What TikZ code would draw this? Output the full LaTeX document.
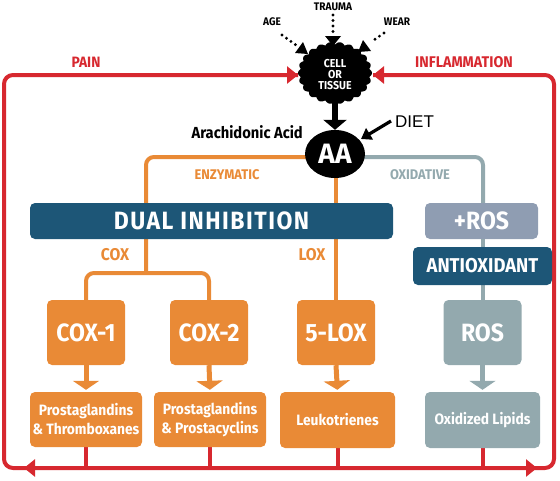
\documentclass[tikz,border=0pt]{standalone}
\usepackage{fontspec}
\setmainfont{Fira Sans}
\newfontfamily\cf{Fira Sans}[FakeStretch=0.92]
\newfontfamily\cfw{Fira Sans}[FakeStretch=0.92,LetterSpace=6]
\newfontfamily\pf{Liberation Sans}
\usetikzlibrary{arrows.meta,shapes.geometric,backgrounds}
\definecolor{ored}{HTML}{D7282F}
\definecolor{oorange}{HTML}{E98A36}
\definecolor{oblue}{HTML}{1D5677}
\definecolor{ogray}{HTML}{8F9DB2}
\definecolor{oteal}{HTML}{93A9AE}
\newcommand{\fsz}[2]{\fontsize{#1}{#2}\selectfont}
\begin{document}
\begin{tikzpicture}[x=1pt,y=-1pt,
  box/.style={rectangle, rounded corners=5pt, inner sep=0pt, text=white, align=center},
  bigbox/.style={box, minimum width=78, minimum height=65, font=\cf\bfseries\fsz{25}{28}},
  prodbox/.style={box, minimum height=55, font=\cf\bfseries\fsz{15}{19}},
  redl/.style={draw=ored, line width=4pt},
  oline/.style={draw=oorange, line width=4pt},
  gline/.style={draw=oteal, line width=4pt},
  dotl/.style={draw=black, line width=3.2pt, line cap=round, dash pattern=on 0pt off 5.5pt},
  lbl/.style={font=\cf\bfseries\fsz{14}{14}, inner sep=0pt},
  boxtip/.style={-{Triangle[length=9pt,width=26pt]}, shorten >=2pt}
]
\useasboundingbox (0,0) rectangle (560,480);
% coordinates
\coordinate (ly) at (0,157);
\coordinate (tl) at (4,75);
\coordinate (tr) at (554,75);
\coordinate (bl) at (4,468);
\coordinate (br) at (554,468);
\coordinate (cellW) at (298,75);
\coordinate (cellE) at (373,75);
\coordinate (ec) at (146,157);
\coordinate (ej) at (146,273);
\coordinate (gc) at (483,157);

% cell
\fill[black] plot[domain=0:360,samples=541,smooth] ({335+(34.5+2.5*abs(cos(11*\x)))*cos(\x)},{73+(28.5+2.5*abs(cos(11*\x)))*sin(\x)}) -- cycle;
\node[text=white, align=center, font=\cf\bfseries\fsz{11.5}{11}, inner sep=0pt] (cellt) at (335,75) {CELL\\OR\\TISSUE};

% AA
\node[ellipse, fill=black, minimum width=60, minimum height=48, inner sep=0pt, text=white, font=\bfseries\fsz{28}{28}] (aa) at (335,154) {AA};

% boxes
\node[box, fill=oblue, minimum width=363, minimum height=36, font=\cfw\bfseries\fsz{25}{25}] (dual) at (211.5,221) {DUAL INHIBITION};
\node[box, fill=ogray, minimum width=113, minimum height=36, font=\cf\bfseries\fsz{25}{25}] (plusros) at (481.5,221) {+ROS};
\node[box, fill=oblue, minimum width=139, minimum height=38, font=\cf\bfseries\fsz{20}{20}] (antiox) at (482.5,266) {ANTIOXIDANT};
\node[bigbox, fill=oorange] (cox1) at (86,332.5) {COX-1};
\node[bigbox, fill=oorange] (cox2) at (209,332.5) {COX-2};
\node[bigbox, fill=oorange] (lox5) at (336,332.5) {5-LOX};
\node[bigbox, fill=oteal] (ros) at (482.5,332.5) {ROS};
\node[prodbox, fill=oorange, minimum width=112] (p1) at (86,419.5) {Prostaglandins\\\& Thromboxanes};
\node[prodbox, fill=oorange, minimum width=112] (p2) at (210,419.5) {Prostaglandins\\\& Prostacyclins};
\node[prodbox, fill=oorange, minimum width=115, minimum height=56] (p3) at (337.5,420) {Leukotrienes};
\node[prodbox, fill=oteal, minimum width=115, minimum height=56] (p4) at (482.5,420) {Oxidized Lipids};

% labels
\node[lbl, text=ored, font=\cf\bfseries\fsz{15}{15}] (pain) at (86,62) {PAIN};
\node[lbl, text=ored, font=\cf\bfseries\fsz{15.5}{15.5}] (infl) at (464,62) {INFLAMMATION};
\node[lbl, text=oorange] (enz) at (227,175) {ENZYMATIC};
\node[lbl, text=oteal] (oxi) at (420,175) {OXIDATIVE};
\node[lbl, text=oorange, font=\cf\bfseries\fsz{17}{17}] (coxl) at (115,255) {COX};
\node[lbl, text=oorange, font=\cf\bfseries\fsz{17}{17}] (loxl) at (312,255) {LOX};
\node[lbl, font=\cf\bfseries\fsz{11}{11}] (trauma) at (333,7) {TRAUMA};
\node[lbl, font=\cf\bfseries\fsz{11}{11}] (age) at (272,22) {AGE};
\node[lbl, font=\cf\bfseries\fsz{11}{11}] (wear) at (397,22) {WEAR};
\node[lbl, font=\cf\bfseries\fsz{16}{16}, anchor=east] (arach) at (303,132) {Arachidonic Acid};
\node[inner sep=0pt, font=\pf\fsz{17}{17}, anchor=west] (diet) at (395,122) {DIET};

% external triggers
\coordinate (tr0) at (333,15);
\coordinate (tr1) at (333,46);
\coordinate (ag0) at (282,35);
\coordinate (ag1) at (308,54);
\coordinate (we0) at (384,33);
\coordinate (we1) at (358,52);
\draw[dotl] (tr0) -- (333,32);
\draw[dotl] (ag0) -- (296,45);
\draw[dotl] (we0) -- (371,42);
\fill[black] (tr1) -- ++(-8,-10) -- ++(16,0) -- cycle;
\fill[black] (ag1) -- ++(-13,-1) -- ++(8,-11) -- cycle;
\fill[black] (we1) -- ++(13,-1) -- ++(-8,-11) -- cycle;

% diet arrow
\coordinate (dt1) at (361,139);
\draw[line width=3.2pt, -{Triangle[length=10pt,width=13pt]}] (diet.west) ++(-4,-1) -- (dt1);

% cell -> AA
\draw[line width=6pt, -{Triangle[length=10pt,width=23pt]}] (335,98) -- (aa.north);

\begin{scope}[on background layer]
\draw[oline, rounded corners=8] (aa.center |- ly) -- (ec) -- (ej);
\draw[oline, rounded corners=8] (cox1.north) -- (cox1.north |- ej) -- (cox2.north |- ej) -- (cox2.north);
\draw[oline] (lox5.north |- aa.center) -- (lox5.north);
\draw[gline, rounded corners=8] (aa.center |- ly) -- (gc) -- (gc |- plusros.center);
\draw[gline] (gc |- plusros.center) -- (gc |- ros.center);
% red loop
\draw[redl, rounded corners=9] (cellW) -- (tl) -- (bl) -- (br) -- (tr) -- (cellE);
\draw[redl] (p1.south) -- (p1.south |- bl);
\draw[redl] (p2.south) -- (p2.south |- bl);
\draw[redl] (p3.south) -- (p3.south |- bl);
\draw[redl] (gc |- p4.south) -- (gc |- bl);
\end{scope}
% red arrowheads
\draw[redl, -{Triangle[length=11pt,width=17pt]}] (270,75) -- (cellW);
\draw[redl, -{Triangle[length=11pt,width=17pt]}] (400,75) -- (cellE);
\draw[redl, -{Triangle[length=11pt,width=17pt]}] (60,468) -- (24,468);
\draw[redl, -{Triangle[length=11pt,width=17pt]}] (500,468) -- (537,468);

% box arrows
\draw[color=oorange, line width=5pt, boxtip] (cox1.south) -- (p1.north);
\draw[color=oorange, line width=5pt, boxtip] (cox2.south) -- (p2.north);
\draw[color=oorange, line width=5pt, boxtip] (lox5.south) -- (p3.north);
\draw[color=oteal, line width=5pt, boxtip] (ros.south) -- (p4.north);
\end{tikzpicture}
\end{document}
